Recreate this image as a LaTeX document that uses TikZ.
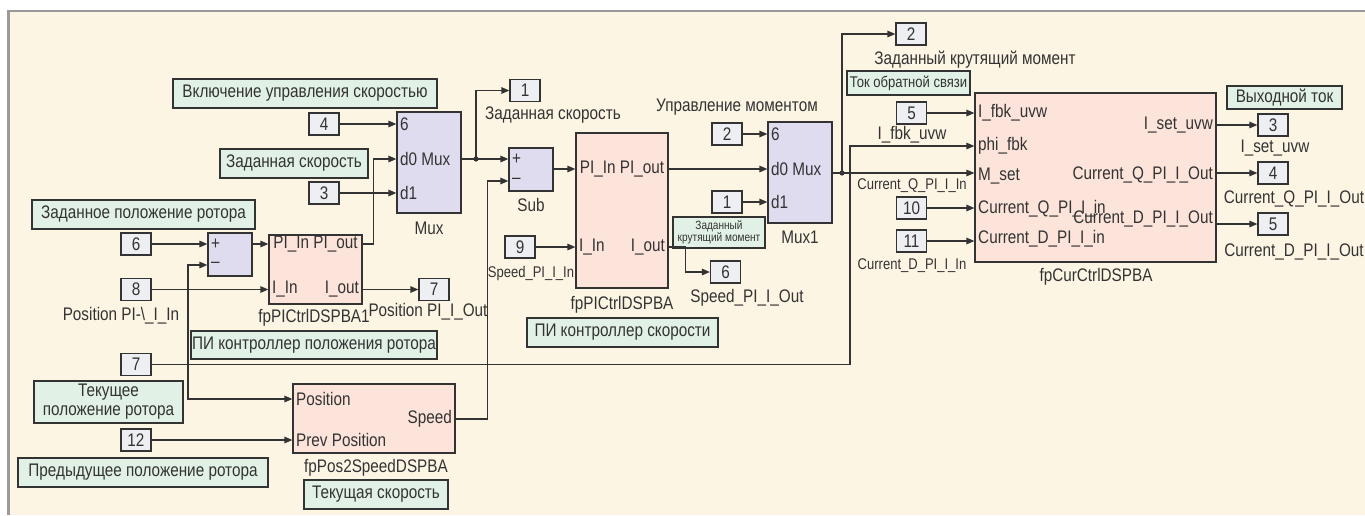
\documentclass[tikz,border=0pt]{standalone}
\usepackage{fontspec}
\setmainfont{Liberation Sans}[FakeStretch=0.84]
\usetikzlibrary{arrows.meta,positioning}
\definecolor{paper}{HTML}{FDF5E4}
\definecolor{framegray}{HTML}{9A9A9A}
\definecolor{ink}{HTML}{333333}
\definecolor{notebg}{HTML}{E2F1E5}
\definecolor{subbg}{HTML}{FCE4DA}
\definecolor{muxbg}{HTML}{DFDCEF}
\definecolor{portbg}{HTML}{EEEFF2}
\tikzset{
  blkfont/.style={font=\fontsize{18.2}{20}\selectfont},
  smfont/.style={font=\fontsize{15.5}{17}\selectfont},
  portbox/.style={draw=ink,fill=portbg,line width=1.2pt,blkfont,text=ink,
                  minimum width=30pt,minimum height=22pt,inner sep=0pt},
  notebox/.style={draw=ink,fill=notebg,line width=1.2pt,blkfont,text=ink,
                  align=center,inner sep=1pt},
  subsys/.style={draw=ink,fill=subbg,line width=1.2pt,inner sep=0pt},
  muxbox/.style={draw=ink,fill=muxbg,line width=1.2pt,inner sep=0pt},
  lbl/.style={blkfont,text=ink,inner sep=0pt},
  sigarr/.style={-{Triangle[length=8pt,width=6.5pt]},draw=ink,line width=1.3pt},
  sigline/.style={draw=ink,line width=1.3pt}
}
\begin{document}
\begin{tikzpicture}[x=1pt,y=-1pt]
  \useasboundingbox (0,0) rectangle (1365,515);
  % sheet and frame
  \fill[white] (0,0) rectangle (1365,515);
  \fill[paper] (8,11) rectangle (1365,515);
  \draw[framegray,line width=2.2pt] (8.5,515) -- (8.5,11) -- (1365,11);

  % ---- notes
  \node[notebox,minimum width=264pt,minimum height=29pt] (nSpeedEn) at (305,93.5) {Включение управления скоростью};
  \node[notebox,minimum width=148pt,minimum height=29pt] (nSpeedSet) at (294,163.5) {Заданная скорость};
  \node[notebox,minimum width=223pt,minimum height=29pt] (nPosSet) at (143.5,214.5) {Заданное положение ротора};
  \node[notebox,minimum width=240pt,minimum height=28pt] (nPosPI) at (314,345) {ПИ контроллер положения ротора};
  \node[notebox,minimum width=149pt,minimum height=42pt,font=\fontsize{18.2}{19}\selectfont] (nPosCur) at (108.5,402) {Текущее\\положение ротора};
  \node[notebox,minimum width=250pt,minimum height=29pt] (nPosPrev) at (143,472.5) {Предыдущее положение ротора};
  \node[notebox,minimum width=144pt,minimum height=29pt] (nSpeedCur) at (376,494.5) {Текущая скорость};
  \node[notebox,minimum width=191pt,minimum height=29pt] (nSpeedPI) at (622.5,332.5) {ПИ контроллер скорости};
  \node[notebox,minimum width=92pt,minimum height=31pt,font=\fontsize{12}{12}\selectfont] (nTorque) at (719,232.5) {Заданный\\крутящий момент};
  \node[notebox,minimum width=123pt,minimum height=24pt,smfont] (nFbk) at (908.5,83) {Ток обратной связи};
  \node[notebox,minimum width=115pt,minimum height=23pt] (nOut) at (1284.5,97.5) {Выходной ток};

  % ---- ports
  \node[portbox] (in4) at (324,124) {4};
  \node[portbox] (in3) at (324,193) {3};
  \node[portbox] (in6) at (136,244) {6};
  \node[portbox] (in8) at (136,289.5) {8};
  \node[portbox] (out7) at (434,289.5) {7};
  \node[portbox] (in7) at (136,364.5) {7};
  \node[portbox] (in12) at (136,440) {12};
  \node[portbox] (out1) at (525,90.5) {1};
  \node[portbox] (in9) at (520,247) {9};
  \node[portbox] (out6) at (725.5,272) {6};
  \node[portbox] (in2) at (727,134) {2};
  \node[portbox] (in1) at (727,202) {1};
  \node[portbox] (out2) at (911,34) {2};
  \node[portbox] (in5) at (911.5,113) {5};
  \node[portbox] (in10) at (911.5,208) {10};
  \node[portbox] (in11) at (911.5,241) {11};
  \node[portbox] (out3) at (1273,125) {3};
  \node[portbox] (out4) at (1273,173) {4};
  \node[portbox] (out5) at (1273,224) {5};

  % ---- blocks
  \node[muxbox,minimum width=64pt,minimum height=101pt] (mux) at (429,162.5) {};
  \node[lbl,anchor=west] (muxA) at (400,124) {6};
  \node[lbl,anchor=west] (muxB) at (400,159) {d0 Mux};
  \node[lbl,anchor=west] (muxC) at (400,193) {d1};
  \node[lbl] (muxName) at (429,228) {Mux};

  \node[muxbox,minimum width=44pt,minimum height=43pt] (sumPos) at (230,254.5) {};
  \node[lbl,anchor=west] (sumPosA) at (211,244) {+};
  \node[lbl,anchor=west] (sumPosB) at (211,265) {–};

  \node[subsys,minimum width=93pt,minimum height=69pt] (piPos) at (315.5,269.5) {};
  \node[lbl] (piPosA) at (315.5,244) {PI\_In PI\_out};
  \node[lbl,anchor=west] (piPosB) at (272,289.5) {I\_In};
  \node[lbl,anchor=east] (piPosC) at (359,289.5) {I\_out};
  \node[lbl] (piPosName) at (314,318) {fpPICtrlDSPBA1};
  \node[lbl] (in8Name) at (121,316) {Position PI-\textbackslash\_I\_In};
  \node[lbl] (out7Name) at (428,312) {Position PI\_I\_Out};

  \node[subsys,minimum width=162pt,minimum height=69pt] (pos2spd) at (374,418.5) {};
  \node[lbl,anchor=west] (p2sA) at (296,399) {Position};
  \node[lbl,anchor=west] (p2sB) at (296,440) {Prev Position};
  \node[lbl,anchor=east] (p2sC) at (452,419) {Speed};
  \node[lbl] (p2sName) at (376,468) {fpPos2SpeedDSPBA};

  \node[muxbox,minimum width=44pt,minimum height=43pt] (sub) at (531,169.5) {};
  \node[lbl,anchor=west] (subA) at (512,159) {+};
  \node[lbl,anchor=west] (subB) at (512,181) {–};
  \node[lbl] (subName) at (531,205) {Sub};
  \node[lbl] (out1Name) at (553,115) {Заданная скорость};

  \node[subsys,minimum width=92pt,minimum height=155pt] (piSpd) at (622,210.5) {};
  \node[lbl] (piSpdA) at (622,169) {PI\_In PI\_out};
  \node[lbl,anchor=west] (piSpdB) at (579,247) {I\_In};
  \node[lbl,anchor=east] (piSpdC) at (665,247) {I\_out};
  \node[lbl] (piSpdName) at (622,305) {fpPICtrlDSPBA};
  \node[lbl,smfont] (in9Name) at (531,273) {Speed\_PI\_I\_In};
  \node[lbl] (out6Name) at (747,298) {Speed\_PI\_I\_Out};

  \node[muxbox,minimum width=64pt,minimum height=101pt] (mux1) at (800,172.5) {};
  \node[lbl,anchor=west] (mux1A) at (771,134) {6};
  \node[lbl,anchor=west] (mux1B) at (771,169) {d0 Mux};
  \node[lbl,anchor=west] (mux1C) at (771,202) {d1};
  \node[lbl] (mux1Name) at (800,237) {Mux1};
  \node[lbl] (mux1Title) at (737,107) {Управление моментом};

  \node[subsys,minimum width=241pt,minimum height=169pt] (cur) at (1095.5,177.5) {};
  \node[lbl,anchor=west] (curA) at (978,113) {I\_fbk\_uvw};
  \node[lbl,anchor=west] (curB) at (978,146) {phi\_fbk};
  \node[lbl,anchor=west] (curC) at (978,176) {M\_set};
  \node[lbl,anchor=west] (curD) at (978,209) {Current\_Q\_PI\_I\_in};
  \node[lbl,anchor=west] (curE) at (978,239) {Current\_D\_PI\_I\_in};
  \node[lbl,anchor=east] (curF) at (1213,125) {I\_set\_uvw};
  \node[lbl,anchor=east] (curG) at (1213,175) {Current\_Q\_PI\_I\_Out};
  \node[lbl,anchor=east] (curH) at (1213,219) {Current\_D\_PI\_I\_Out};
  \node[lbl] (curName) at (1096,277) {fpCurCtrlDSPBA};
  \node[lbl] (out2Name) at (975,60) {Заданный крутящий момент};
  \node[lbl] (in5Name) at (912,135) {I\_fbk\_uvw};
  \node[lbl,smfont] (qInName) at (912,186) {Current\_Q\_PI\_I\_In};
  \node[lbl,smfont] (dInName) at (912,266) {Current\_D\_PI\_I\_In};
  \node[lbl] (out3Name) at (1275,148) {I\_set\_uvw};
  \node[lbl] (out4Name) at (1294,199) {Current\_Q\_PI\_I\_Out};
  \node[lbl] (out5Name) at (1294,252) {Current\_D\_PI\_I\_Out};

  % ---- position loop
  \draw[sigarr] (in4) -- (mux.west |- muxA);
  \draw[sigarr] (in3) -- (mux.west |- muxC);
  \draw[sigarr] (in6) -- (sumPos.west |- in6);
  \draw[sigarr] (sumPos.east |- piPosA) -- (piPos.west |- piPosA);
  \draw[sigarr] (in8) -- (piPos.west |- in8);
  \draw[sigarr] (piPos.east |- piPosC) -- (out7);
  \draw[sigarr] (piPos.east |- piPosA) -- ++(11,0) |- (mux.west |- muxB);
  \coordinate (tapPos) at (188,330);
  \draw[sigarr] (tapPos) |- (sumPos.west |- sumPosB);
  \draw[sigarr] (tapPos) |- (pos2spd.west |- p2sA);
  \draw[sigarr] (in12) -- (pos2spd.west |- in12);

  % ---- speed loop
  \coordinate (j1) at (476,159);
  \draw[sigline] (mux.east |- j1) -- (j1);
  \draw[sigarr] (j1) |- (out1);
  \draw[sigarr] (j1) -- (sub.west |- subA);
  \fill[ink] (j1) circle (2.6pt);
  \draw[sigarr] (pos2spd.east |- p2sC) -- ++(32,0) |- (sub.west |- subB);
  \draw[sigarr] (sub.east |- piSpdA) -- (piSpd.west |- piSpdA);
  \draw[sigarr] (in9) -- (piSpd.west |- in9);
  \draw[sigarr] (piSpd.east |- piSpdC) -- ++(17,0) |- (out6);
  \draw[sigarr] (piSpd.east |- piSpdA) -- (mux1.west |- mux1B);

  % ---- torque / current loop
  \draw[sigarr] (in2) -- (mux1.west |- in2);
  \draw[sigarr] (in1) -- (mux1.west |- in1);
  \coordinate (j2) at (842,173);
  \draw[sigline] (mux1.east |- j2) -- (j2);
  \draw[sigarr] (j2) |- (out2);
  \draw[sigarr] (j2) -- (cur.west |- j2);
  \fill[ink] (j2) circle (2.6pt);
  \coordinate (phiBend) at (850,364.5);
  \draw[sigarr] (in7) -- (phiBend) |- (cur.west |- curB);
  \draw[sigarr] (in5) -- (cur.west |- in5);
  \draw[sigarr] (in10) -- (cur.west |- in10);
  \draw[sigarr] (in11) -- (cur.west |- in11);
  \draw[sigarr] (cur.east |- out3) -- (out3);
  \draw[sigarr] (cur.east |- out4) -- (out4);
  \draw[sigarr] (cur.east |- out5) -- (out5);
\end{tikzpicture}
\end{document}
